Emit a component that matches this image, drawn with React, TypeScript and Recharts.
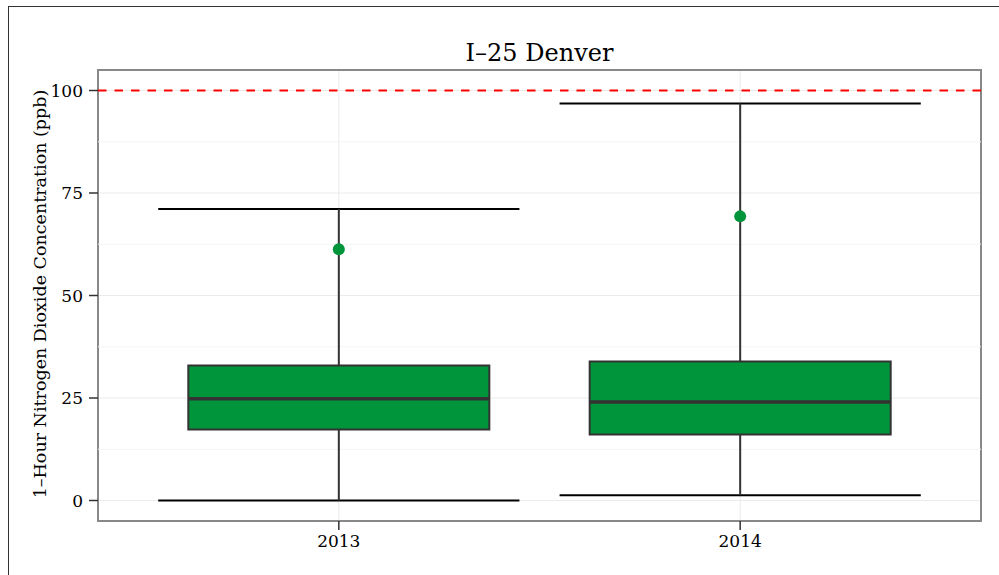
import {
  ComposedChart,
  Scatter,
  XAxis,
  YAxis,
  CartesianGrid,
  ReferenceArea,
  ReferenceLine,
} from 'recharts';

const years = ['2013', '2014'];
const whiskerLow = [0, 1.3];
const q1 = [17.3, 16.1];
const median = [24.8, 24.0];
const q3 = [32.9, 33.9];
const whiskerHigh = [71.1, 96.8];
const means = [61.3, 69.3];
const yTicks = [0, 25, 50, 75, 100];
const minorTicks = [12.5, 37.5, 62.5, 87.5];
const standard = 100;

const FONT = '"DejaVu Serif", serif';
const BOX_HALF = 0.375;
const CAP_HALF = 0.45;

const meanData = years.map((year, i) => ({ x: i + 1, y: means[i], year }));

export default function App() {
  return (
    <div style={{ position: 'absolute', left: 0, top: 0, width: 999, height: 575, background: '#fff', overflow: 'hidden' }}>
      <div
        style={{
          position: 'absolute',
          left: 8,
          top: 6,
          width: 1200,
          height: 800,
          border: '1px solid #333',
        }}
      />
      <div
        style={{
          position: 'absolute',
          left: 98,
          width: 883,
          top: 39,
          textAlign: 'center',
          fontFamily: FONT,
          fontSize: 24,
          color: '#000',
        }}
      >
        I–25 Denver
      </div>
      <ComposedChart
        width={999}
        height={575}
        margin={{ top: 70, right: 18, left: 0, bottom: 0 }}
        style={{ position: 'absolute', left: 0, top: 0 }}
      >
        <CartesianGrid stroke="#ebebeb" strokeWidth={1} />
        {minorTicks.map((v) => (
          <ReferenceLine key={v} y={v} stroke="#f4f4f4" strokeWidth={1} />
        ))}
        <XAxis
          type="number"
          dataKey="x"
          domain={[0.4, 2.6]}
          ticks={[1, 2]}
          tickFormatter={(v: number) => years[v - 1]}
          allowDataOverflow
          height={54}
          axisLine={false}
          tickLine={{ stroke: '#333', strokeWidth: 1.5 }}
          tickSize={9}
          tickMargin={5}
          tick={{ fill: '#000', fontSize: 17, fontFamily: FONT }}
        />
        <YAxis
          type="number"
          domain={[-5, 105]}
          ticks={yTicks}
          allowDataOverflow
          width={98}
          axisLine={false}
          tickLine={{ stroke: '#333', strokeWidth: 1.5 }}
          tickSize={9}
          tickMargin={6}
          tick={{ fill: '#000', fontSize: 17, fontFamily: FONT }}
          label={{
            content: () => (
              <text
                x={40}
                y={294}
                transform="rotate(-90 40 294)"
                textAnchor="middle"
                dominantBaseline="central"
                fontFamily={FONT}
                fontSize={17.5}
                fill="#000"
              >
                1–Hour Nitrogen Dioxide Concentration (ppb)
              </text>
            ),
          }}
        />
        <ReferenceLine y={standard} stroke="#ff0000" strokeWidth={2} strokeDasharray="8.5 8" />
        {years.map((year, i) => (
          <ReferenceLine
            key={`caphi-${year}`}
            segment={[{ x: i + 1 - CAP_HALF, y: whiskerHigh[i] }, { x: i + 1 + CAP_HALF, y: whiskerHigh[i] }]}
            stroke="#000"
            strokeWidth={2}
          />
        ))}
        {years.map((year, i) => (
          <ReferenceLine
            key={`caplo-${year}`}
            segment={[{ x: i + 1 - CAP_HALF, y: whiskerLow[i] }, { x: i + 1 + CAP_HALF, y: whiskerLow[i] }]}
            stroke="#000"
            strokeWidth={2}
          />
        ))}
        {years.map((year, i) => (
          <ReferenceLine
            key={`whi-${year}`}
            segment={[{ x: i + 1, y: q3[i] }, { x: i + 1, y: whiskerHigh[i] }]}
            stroke="#333"
            strokeWidth={2}
          />
        ))}
        {years.map((year, i) => (
          <ReferenceLine
            key={`wlo-${year}`}
            segment={[{ x: i + 1, y: whiskerLow[i] }, { x: i + 1, y: q1[i] }]}
            stroke="#333"
            strokeWidth={2}
          />
        ))}
        {years.map((year, i) => (
          <ReferenceArea
            key={`box-${year}`}
            x1={i + 1 - BOX_HALF}
            x2={i + 1 + BOX_HALF}
            y1={q1[i]}
            y2={q3[i]}
            fill="#00943b"
            fillOpacity={1}
            stroke="#333"
            strokeWidth={2}
          />
        ))}
        {years.map((year, i) => (
          <ReferenceLine
            key={`med-${year}`}
            segment={[{ x: i + 1 - BOX_HALF, y: median[i] }, { x: i + 1 + BOX_HALF, y: median[i] }]}
            stroke="#333"
            strokeWidth={3.5}
          />
        ))}
        <Scatter
          data={meanData}
          dataKey="y"
          isAnimationActive={false}
          shape={(p: any) => <circle cx={p.cx} cy={p.cy} r={6} fill="#00943b" />}
        />
        <ReferenceArea
          x1={0.4}
          x2={2.6}
          y1={-5}
          y2={105}
          fill="none"
          stroke="#888"
          strokeWidth={2}
        />
      </ComposedChart>
    </div>
  );
}
